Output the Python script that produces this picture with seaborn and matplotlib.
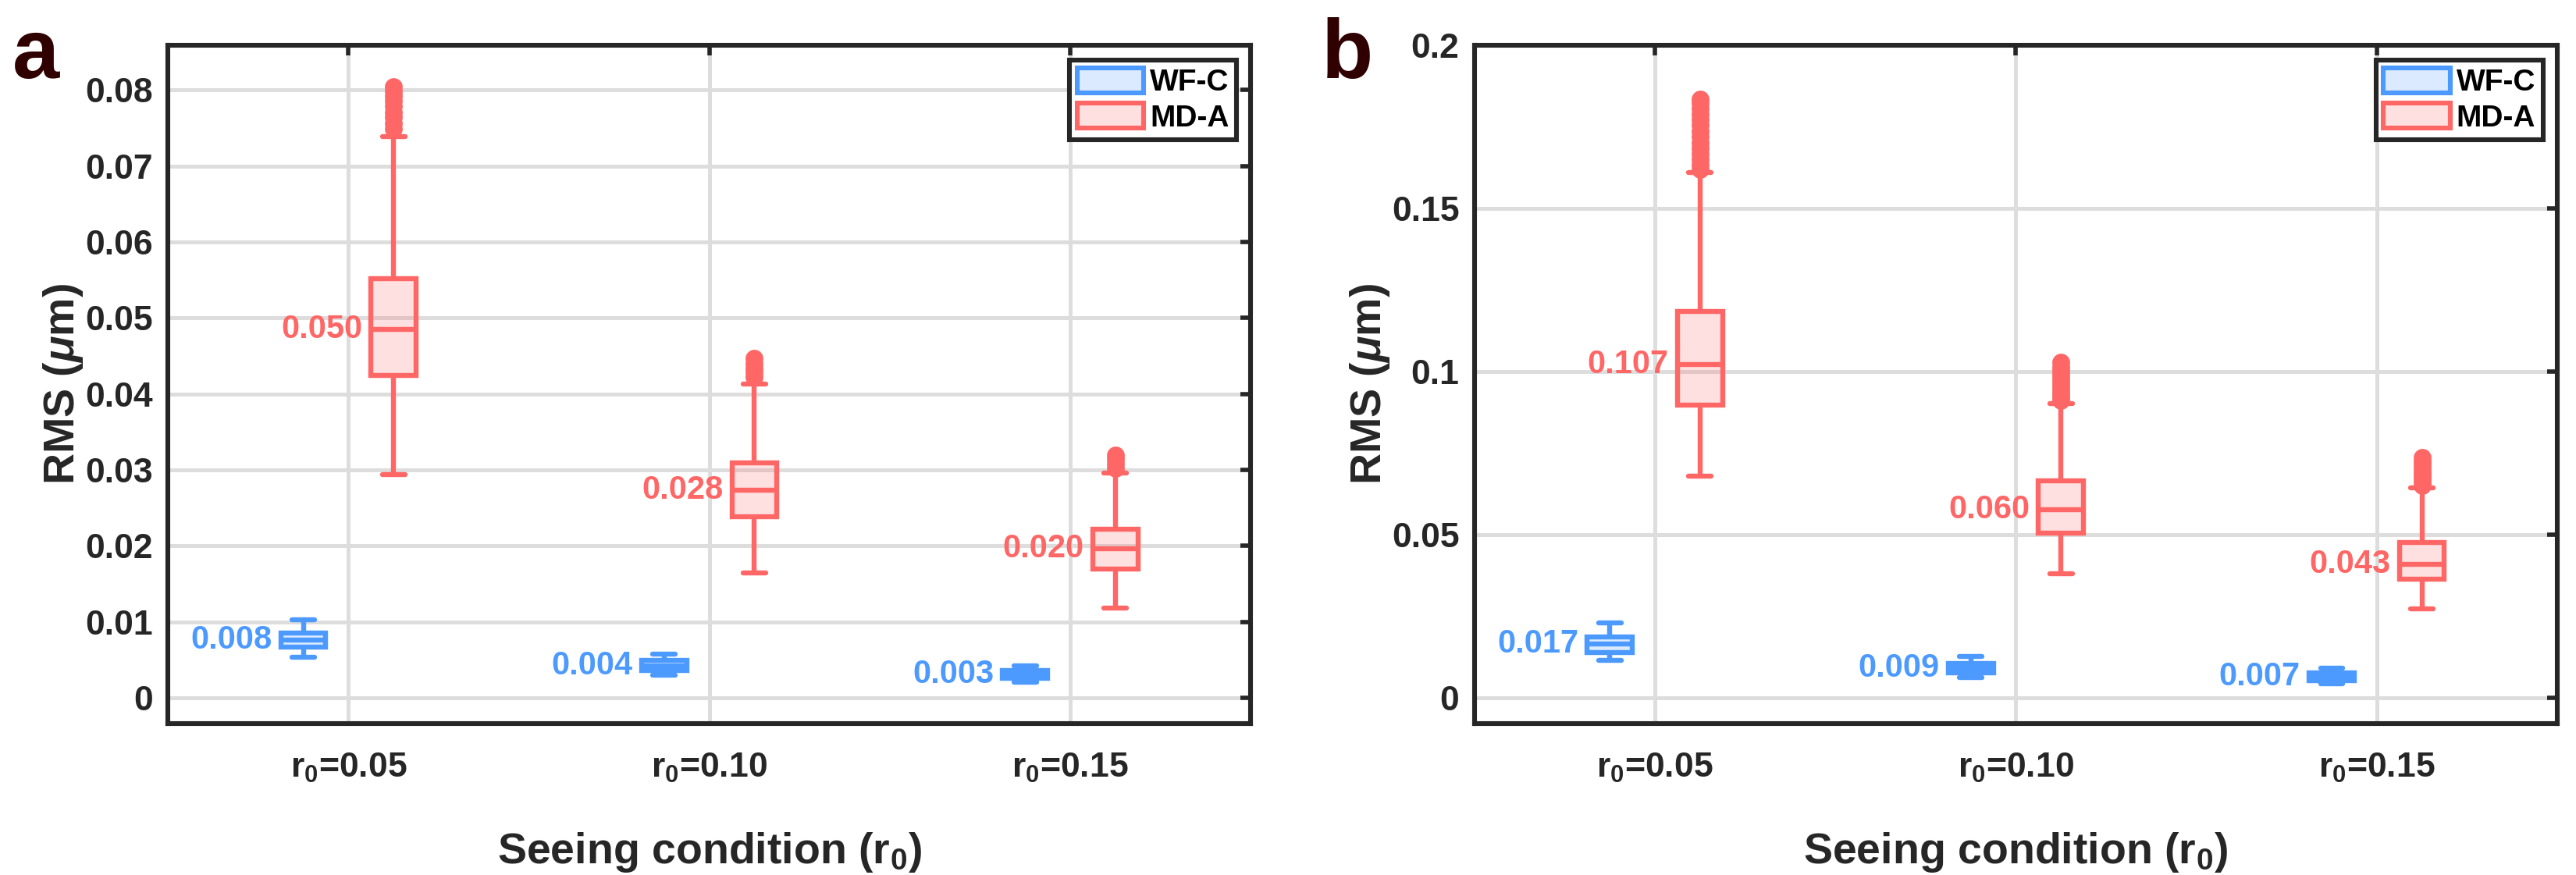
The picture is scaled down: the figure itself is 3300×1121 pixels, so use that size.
import numpy as np
import pandas as pd
import matplotlib
matplotlib.use("Agg")
import matplotlib.pyplot as plt
from matplotlib.patches import Patch
from matplotlib.colors import to_rgb
import seaborn as sns

# categorie e metodi
seeing = ["r$_0$=0.05", "r$_0$=0.10", "r$_0$=0.15"]
methods = ["WF-C", "MD-A"]

# pannello a: [baffo basso, q1, mediana, q3, baffo alto] per ogni r0
a_wfc_box = [[0.00536, 0.00669, 0.00758, 0.00857, 0.01024],
             [0.00297, 0.00355, 0.00423, 0.00491, 0.00573],
             [0.00208, 0.00253, 0.00307, 0.00362, 0.00416]]
a_mda_box = [[0.02936, 0.0424, 0.0485, 0.0552, 0.0739],
             [0.01645, 0.0238, 0.0273, 0.0309, 0.0413],
             [0.01177, 0.0170, 0.0196, 0.0222, 0.0296]]
a_mda_fliers = [[0.0749, 0.0756, 0.0764, 0.0771, 0.0779, 0.0786, 0.0792, 0.0798, 0.0804],
                [0.0422, 0.0428, 0.0434, 0.0440, 0.0447],
                [0.0302, 0.0308, 0.0314, 0.0320]]
a_wfc_mean = [0.008, 0.004, 0.003]
a_mda_mean = [0.050, 0.028, 0.020]

# pannello b
b_wfc_box = [[0.0115, 0.0140, 0.0165, 0.0188, 0.0231],
             [0.00628, 0.00764, 0.00915, 0.01058, 0.01273],
             [0.00445, 0.00525, 0.00652, 0.00772, 0.00923]]
b_mda_box = [[0.0679, 0.0898, 0.1023, 0.1185, 0.1610],
             [0.0382, 0.0506, 0.0578, 0.0666, 0.0903],
             [0.0273, 0.0364, 0.0411, 0.0477, 0.0644]]
b_mda_fliers = [[0.1620, 0.1635, 0.1652, 0.1668, 0.1685, 0.1702, 0.1720, 0.1738,
                 0.1755, 0.1772, 0.1790, 0.1806, 0.1822, 0.1835],
                [0.0912, 0.0922, 0.0932, 0.0943, 0.0954, 0.0966, 0.0978, 0.0990,
                 0.1003, 0.1016, 0.1030],
                [0.0652, 0.0662, 0.0672, 0.0682, 0.0693, 0.0704, 0.0715, 0.0726, 0.0737]]
b_wfc_mean = [0.017, 0.009, 0.007]
b_mda_mean = [0.107, 0.060, 0.043]

colors = {"WF-C": "#4D9AFF", "MD-A": "#FF6666"}
dark = "#262626"

sns.set_theme(style="white")
plt.rcParams["font.family"] = ["Liberation Sans", "DejaVu Sans"]
plt.rcParams["font.weight"] = "bold"
plt.rcParams["axes.labelweight"] = "bold"
plt.rcParams["mathtext.fontset"] = "custom"
plt.rcParams["mathtext.rm"] = "Liberation Sans:bold"
plt.rcParams["mathtext.bf"] = "Liberation Sans:bold"
plt.rcParams["mathtext.it"] = "Liberation Sans:italic:bold"
plt.rcParams["mathtext.default"] = "bf"


def sample(box, fliers):
    # campione con gli stessi quartili e baffi
    lo, q1, med, q3, hi = box
    return [lo] + [q1] * 40 + [med] * 40 + [q3] * 40 + [hi] + list(fliers)


def make_df(wfc_box, mda_box, mda_fliers):
    rows = []
    for m, boxes, fl in [("WF-C", wfc_box, [[], [], []]), ("MD-A", mda_box, mda_fliers)]:
        for cat, box, f in zip(seeing, boxes, fl):
            for v in sample(box, f):
                rows.append((cat, m, v))
    return pd.DataFrame(rows, columns=["seeing", "method", "rms"])


def draw_panel(ax, wfc_box, mda_box, mda_fliers, wfc_mean, mda_mean, ylim, yticks):
    df = make_df(wfc_box, mda_box, mda_fliers)
    for m in methods:
        col = colors[m]
        n_p = len(ax.patches)
        n_l = len(ax.lines)
        sns.boxplot(data=df[df["method"] == m], x="seeing", y="rms", hue="method",
                    order=seeing, hue_order=methods, palette=colors, linecolor=col,
                    linewidth=2.3, width=0.5, gap=0.5, dodge=True, whis=1.5,
                    flierprops=dict(marker="o", markersize=7.2, markerfacecolor=col,
                                    markeredgecolor=col),
                    legend=False, ax=ax)
        rgb = to_rgb(col)
        for p in ax.patches[n_p:]:
            p.set_facecolor((*rgb, 0.2))
            p.set_edgecolor(rgb)
            p.set_zorder(3)
        for ln in ax.lines[n_l:]:
            ln.set_color(col)
            ln.set_zorder(3)
            if ln.get_marker() == "o":
                ln.set_markerfacecolor(col)
                ln.set_markeredgecolor(col)

    # etichette con la media a sinistra di ogni box
    for m, boxes, means, off in [("WF-C", wfc_box, wfc_mean, -0.125),
                                 ("MD-A", mda_box, mda_mean, 0.125)]:
        for i, (box, mu) in enumerate(zip(boxes, means)):
            ax.annotate(f"{mu:.3f}", xy=(i + off - 0.0625, box[2]), xytext=(-4, 0),
                        textcoords="offset points", ha="right", va="center",
                        color=colors[m], fontsize=15, fontweight="bold", zorder=4)

    ax.set_xlim(-0.5, 2.5)
    ax.set_ylim(*ylim)
    ax.set_yticks(yticks)
    ax.set_yticklabels([f"{v:g}" for v in yticks])
    ax.grid(True, color="#DDDDDD", linewidth=1.8)
    ax.set_axisbelow(True)
    for s in ax.spines.values():
        s.set_visible(True)
        s.set_color(dark)
        s.set_linewidth(2.2)
    ax.tick_params(direction="in", length=4.7, width=2, top=True, right=True,
                   colors=dark, labelsize=16)
    ax.tick_params(axis="y", pad=7)
    ax.tick_params(axis="x", pad=13)
    ax.set_xlabel("Seeing condition (r$_0$)", fontsize=20, color=dark, labelpad=21)
    ax.set_ylabel("RMS ($\\mathit{\\mu}$m)", fontsize=20, color=dark, labelpad=0)

    handles = [Patch(facecolor=(*to_rgb(colors[m]), 0.2), edgecolor=colors[m],
                     linewidth=2.2, label=m) for m in methods]
    leg = ax.legend(handles=handles, loc="upper right", bbox_to_anchor=(0.987, 0.978),
                    borderaxespad=0, frameon=True, fancybox=False, edgecolor=dark,
                    framealpha=1, handlelength=2.2, handleheight=0.9,
                    handletextpad=0.2, labelspacing=0.2, borderpad=0.25,
                    prop=dict(size=14, weight="bold"))
    leg.get_frame().set_linewidth(2.2)
    for t in leg.get_texts():
        t.set_color("black")


fig = plt.figure(figsize=(16.5, 5.605), dpi=200)
ax_a = fig.add_axes([0.0652, 0.173, 0.4203, 0.7753])
ax_b = fig.add_axes([0.5724, 0.173, 0.4203, 0.7753])

draw_panel(ax_a, a_wfc_box, a_mda_box, a_mda_fliers, a_wfc_mean, a_mda_mean,
           (-0.0034, 0.0859), [0, 0.01, 0.02, 0.03, 0.04, 0.05, 0.06, 0.07, 0.08])
draw_panel(ax_b, b_wfc_box, b_mda_box, b_mda_fliers, b_wfc_mean, b_mda_mean,
           (-0.0078, 0.2), [0, 0.05, 0.1, 0.15, 0.2])

fig.text(0.0048, 0.911, "a", fontsize=39, fontweight="bold", color="#300000", va="baseline")
fig.text(0.513, 0.911, "b", fontsize=39, fontweight="bold", color="#300000", va="baseline")

fig.savefig("out.png", dpi=200)
